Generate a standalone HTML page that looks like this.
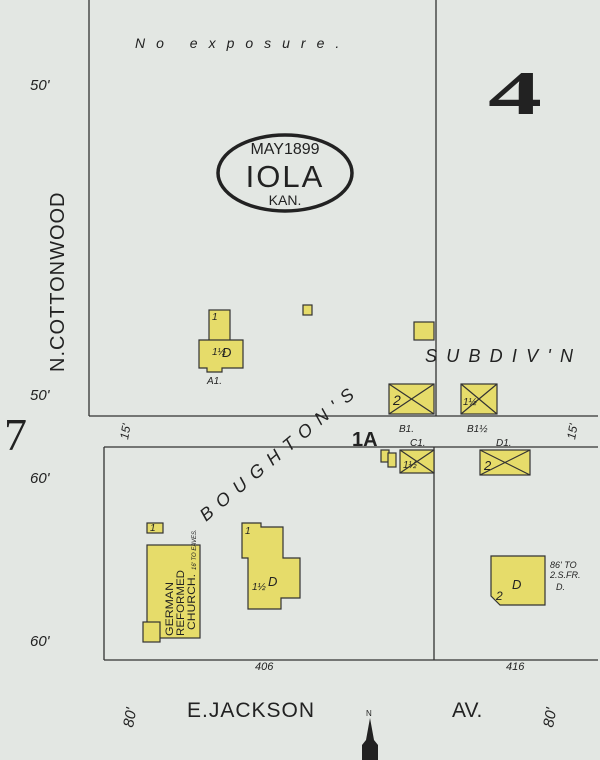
<!DOCTYPE html>
<html><head><meta charset="utf-8"><style>
html,body{margin:0;padding:0;background:#e3e7e3;}
svg{display:block;}
text{font-family:"Liberation Sans",sans-serif;fill:#222;}
.it{font-style:italic;}
</style></head><body>
<svg width="600" height="760" viewBox="0 0 600 760" xmlns="http://www.w3.org/2000/svg">
<rect width="600" height="760" fill="#e3e7e3"/>
<g stroke="#333" stroke-width="1.3" fill="none">
<line x1="89" y1="0" x2="89" y2="416"/>
<line x1="436" y1="0" x2="436" y2="416"/>
<line x1="89" y1="416" x2="598" y2="416"/>
<line x1="104" y1="447" x2="598" y2="447"/>
<line x1="104" y1="447" x2="104" y2="660"/>
<line x1="104" y1="660" x2="598" y2="660"/>
<line x1="434" y1="447" x2="434" y2="660"/>
</g>
<text x="135" y="48" class="it" font-size="14" letter-spacing="11">No exposure.</text>
<text x="30" y="90" class="it" font-size="15">50'</text>
<text x="30" y="400" class="it" font-size="15">50'</text>
<text x="30" y="483" class="it" font-size="15">60'</text>
<text x="30" y="646" class="it" font-size="15">60'</text>
<text transform="translate(128,440) rotate(-80)" class="it" font-size="12">15'</text>
<text transform="translate(575,440) rotate(-80)" class="it" font-size="12">15'</text>
<text transform="translate(133,728) rotate(-80)" class="it" font-size="15">80'</text>
<text transform="translate(553,728) rotate(-80)" class="it" font-size="15">80'</text>
<text x="488" y="114" font-size="62" font-weight="bold" textLength="54" lengthAdjust="spacingAndGlyphs" style="font-family:'Liberation Serif',serif">4</text>
<text x="4" y="450" font-size="46" style="font-family:'Liberation Serif',serif">7</text>
<ellipse cx="285" cy="173" rx="67" ry="38" fill="none" stroke="#222" stroke-width="3.5"/>
<text x="285" y="154" text-anchor="middle" font-size="16">MAY1899</text>
<text x="285" y="187" text-anchor="middle" font-size="31" letter-spacing="2">IOLA</text>
<text x="285" y="205" text-anchor="middle" font-size="14">KAN.</text>
<text transform="translate(64,372) rotate(-90)" font-size="20" letter-spacing="1">N.COTTONWOOD</text>
<text x="352" y="446" font-size="20" font-weight="bold">1A</text>
<text x="187" y="717" font-size="21" letter-spacing="1">E.JACKSON</text>
<text x="452" y="717" font-size="21">AV.</text>
<text x="255" y="670" class="it" font-size="11">406</text>
<text x="506" y="670" class="it" font-size="11">416</text>
<text transform="translate(206,522) rotate(-40)" class="it" font-size="18" textLength="195" lengthAdjust="spacing">BOUGHTON'S</text>
<text x="425" y="362" class="it" font-size="18" textLength="148" lengthAdjust="spacing">SUBDIV'N</text>
<g fill="#e6dc6a" stroke="#333" stroke-width="1.2">
<rect x="209" y="310" width="21" height="32"/>
<path d="M199 340H243V368H222V372H207V368H199Z"/>
<rect x="303" y="305" width="9" height="10"/>
<rect x="414" y="322" width="20" height="18"/>
<rect x="389" y="384" width="45" height="30"/>
<rect x="461" y="384" width="36" height="30"/>
<rect x="381" y="450" width="8" height="12"/>
<rect x="388" y="453" width="8" height="14"/>
<rect x="400" y="450" width="34" height="23"/>
<rect x="480" y="450" width="50" height="25"/>
<rect x="147" y="523" width="16" height="10"/>
<rect x="147" y="545" width="53" height="93"/>
<rect x="143" y="622" width="17" height="20"/>
<path d="M242 523H261V527H283V558H300V598H281V609H248V558H242Z"/>
<path d="M491 556H545V605H500L491 596Z"/>
</g>
<g stroke="#333" stroke-width="1.2">
<line x1="389" y1="384" x2="434" y2="414"/><line x1="434" y1="384" x2="389" y2="414"/>
<line x1="461" y1="384" x2="497" y2="414"/><line x1="497" y1="384" x2="461" y2="414"/>
<line x1="400" y1="450" x2="434" y2="473"/><line x1="434" y1="450" x2="400" y2="473"/>
<line x1="480" y1="450" x2="530" y2="475"/><line x1="530" y1="450" x2="480" y2="475"/>
</g>
<g font-size="10" class="it">
<text x="212" y="320">1</text><text x="212" y="355">1½</text><text x="222" y="357" font-size="13">D</text>
<text x="207" y="384">A1.</text>
<text x="393" y="405" font-size="14">2</text><text x="463" y="405">1½</text>
<text x="399" y="432">B1.</text><text x="467" y="432">B1½</text>
<text x="410" y="446">C1.</text><text x="496" y="446">D1.</text>
<text x="484" y="470" font-size="13">2</text><text x="403" y="468">1½</text>
<text x="150" y="531">1</text><text x="252" y="590">1½</text><text x="268" y="586" font-size="13">D</text>
<text x="245" y="534">1</text><text x="512" y="589" font-size="13">D</text><text x="496" y="600" font-size="12">2</text>
<text x="550" y="568" font-size="9">86' TO</text><text x="550" y="578" font-size="9">2.S.FR.</text><text x="556" y="590" font-size="9">D.</text>
</g>
<text transform="translate(173,636) rotate(-90)" font-size="11" textLength="54" lengthAdjust="spacingAndGlyphs">GERMAN</text>
<text transform="translate(184,636) rotate(-90)" font-size="11" textLength="66" lengthAdjust="spacingAndGlyphs">REFORMED</text>
<text transform="translate(195,630) rotate(-90)" font-size="11" textLength="56" lengthAdjust="spacingAndGlyphs">CHURCH.</text>
<text transform="translate(196,570) rotate(-90)" class="it" font-size="6">16' TO EAVES.</text>
<text x="366" y="716" font-size="8">N</text>
<path d="M370 718L374 740L378 745L378 760H362L362 745L366 740Z" fill="#222"/>
</svg>
</body></html>
